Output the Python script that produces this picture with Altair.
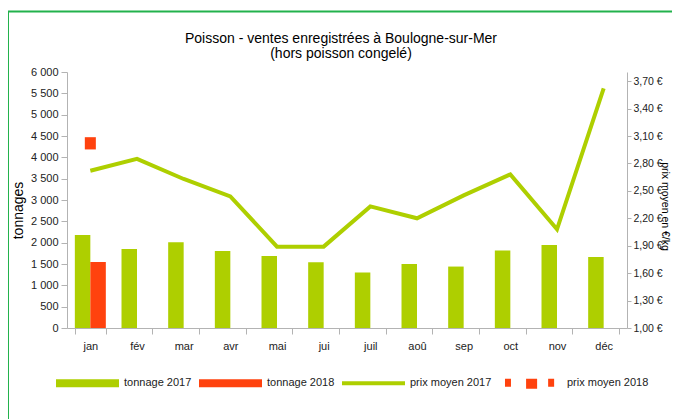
import altair as alt
import pandas as pd

months = ["jan", "fév", "mar", "avr", "mai", "jui", "juil", "aoû", "sep", "oct", "nov", "déc"]
tonnage_2017 = [2180, 1850, 2010, 1805, 1690, 1540, 1300, 1500, 1440, 1815, 1945, 1665]
tonnage_2018_months = ["jan"]
tonnage_2018 = [1545]
prix_2017 = [2.72, 2.85, 2.63, 2.44, 1.89, 1.89, 2.33, 2.20, 2.45, 2.68, 2.08, 3.62]
prix_2018_months = ["jan"]
prix_2018 = [3.02]
series_names = ["tonnage 2017", "tonnage 2018", "prix moyen 2017", "prix moyen 2018"]
title_lines = ["Poisson - ventes enregistrées à Boulogne-sur-Mer", "(hors poisson congelé)"]

GREEN = "#aecf00"
RED = "#ff420e"
FONT = "Liberation Sans"
AXIS_COL = "#b3b3b3"
TXT = "#222222"

bars_df = pd.DataFrame(
    {"month": months, "year": "2017", "tonnage": tonnage_2017, "col": GREEN}
)
bars_df = pd.concat(
    [bars_df, pd.DataFrame({"month": tonnage_2018_months, "year": "2018", "tonnage": tonnage_2018, "col": RED})],
    ignore_index=True,
)
prix17_df = pd.DataFrame({"month": months, "prix": prix_2017})
prix18_df = pd.DataFrame({"month": prix_2018_months, "prix": prix_2018})
legend_df = pd.DataFrame({"series": series_names})
title_df = pd.DataFrame({"t": ["\n".join(title_lines)]})

x_enc = alt.X(
    "month:N",
    sort=months,
    scale=alt.Scale(domain=months, paddingInner=0.336, paddingOuter=0.168),
    axis=alt.Axis(
        title=None, labelAngle=0, tickBand="extent", labelFont=FONT, labelFontSize=11,
        labelColor=TXT, domainColor=AXIS_COL, tickColor=AXIS_COL, tickSize=6, labelPadding=6,
        grid=False,
    ),
)

left_axis = alt.Axis(
    values=list(range(0, 6001, 500)),
    labelExpr="replace(format(datum.value, ','), ',', ' ')",
    title="tonnages", titleFont=FONT, titleFontSize=14, titleFontWeight="normal", titleColor="#000",
    titleAngle=270, titleX=-49, titleY=138, titleAlign="center", titleBaseline="middle",
    labelFont=FONT, labelFontSize=11, labelColor=TXT, domainColor=AXIS_COL, tickColor=AXIS_COL,
    tickSize=6, labelPadding=3, grid=False,
)

right_vals = [1.0, 1.3, 1.6, 1.9, 2.2, 2.5, 2.8, 3.1, 3.4, 3.7]
right_axis = alt.Axis(
    orient="right",
    values=right_vals,
    labelExpr="replace(format(datum.value, '.2f'), '.', ',') + ' €'",
    title="prix moyen en €/kg", titleFont=FONT, titleFontSize=10.5, titleFontWeight="normal", titleColor="#000",
    titleAngle=90, titleX=34, titleY=134, titleAlign="center", titleBaseline="alphabetic",
    labelFont=FONT, labelFontSize=10.5, labelColor=TXT, domainColor=AXIS_COL, tickColor=AXIS_COL,
    tickSize=4, labelPadding=2, grid=False,
)

frame = alt.Chart(pd.DataFrame({"a": [0]})).mark_rect(
    filled=False, stroke="#22b24c", strokeWidth=2, clip=False
).encode(
    x=alt.value(-59), y=alt.value(-60.5), x2=alt.value(2000), y2=alt.value(2000)
)

title_text = alt.Chart(title_df).mark_text(
    font=FONT, fontSize=14, color="#000", align="center", baseline="alphabetic",
    lineBreak="\n", lineHeight=15,
).encode(text="t:N", x=alt.value(274), y=alt.value(-28.7))

bars = alt.Chart(bars_df).mark_bar().encode(
    x=x_enc,
    xOffset=alt.XOffset("year:N", scale=alt.Scale(domain=["2017", "2018"], paddingInner=0, paddingOuter=0)),
    y=alt.Y("tonnage:Q", scale=alt.Scale(domain=[0, 6000], nice=False), axis=left_axis),
    color=alt.Color("col:N", scale=None),
)

y_right = alt.Y("prix:Q", scale=alt.Scale(domain=[1.0, 3.8], nice=False, zero=False), axis=right_axis)

line = alt.Chart(prix17_df).mark_line(color=GREEN, strokeWidth=4).encode(x=x_enc, y=y_right)
square = alt.Chart(prix18_df).mark_point(
    shape="M-0.9,-1H0.9V1H-0.9Z", filled=True, color=RED, opacity=1, size=150
).encode(x=x_enc, y=y_right)

right_layer = alt.layer(line, square)

shape_paths = [
    "M-1,-0.13H1V0.13H-1Z",
    "M-1,-0.13H1V0.13H-1Z",
    "M-1,-0.065H1V0.065H-1Z",
    "M-0.81,-0.13H-0.62V0.13H-0.81Z M-0.14,-0.13H0.21V0.19H-0.14Z M0.56,-0.13H0.75V0.13H0.56Z",
]
leg = alt.Legend(
    title=None, orient="none", direction="horizontal", legendX=-11, legendY=279,
    labelFont=FONT, labelFontSize=11, labelColor=TXT, labelOffset=5, columnPadding=7,
    symbolSize=3969, symbolStrokeWidth=0, symbolOpacity=1,
)
legend_layer = alt.Chart(legend_df).mark_point(filled=True, opacity=0).encode(
    color=alt.Color("series:N", sort=series_names,
                    scale=alt.Scale(domain=series_names, range=[GREEN, RED, GREEN, RED]), legend=leg),
    shape=alt.Shape("series:N", sort=series_names,
                    scale=alt.Scale(domain=series_names, range=shape_paths), legend=leg),
)

chart = alt.layer(frame, title_text, bars, right_layer, legend_layer).resolve_scale(y="independent").properties(
    width=560,
    height=256,
    autosize=alt.AutoSizeParams(type="none"),
    padding={"left": 59, "top": 64, "right": 45, "bottom": 91},
).configure_view(stroke=None)

chart.save("out.html", embed_options={"renderer": "svg", "actions": False})
